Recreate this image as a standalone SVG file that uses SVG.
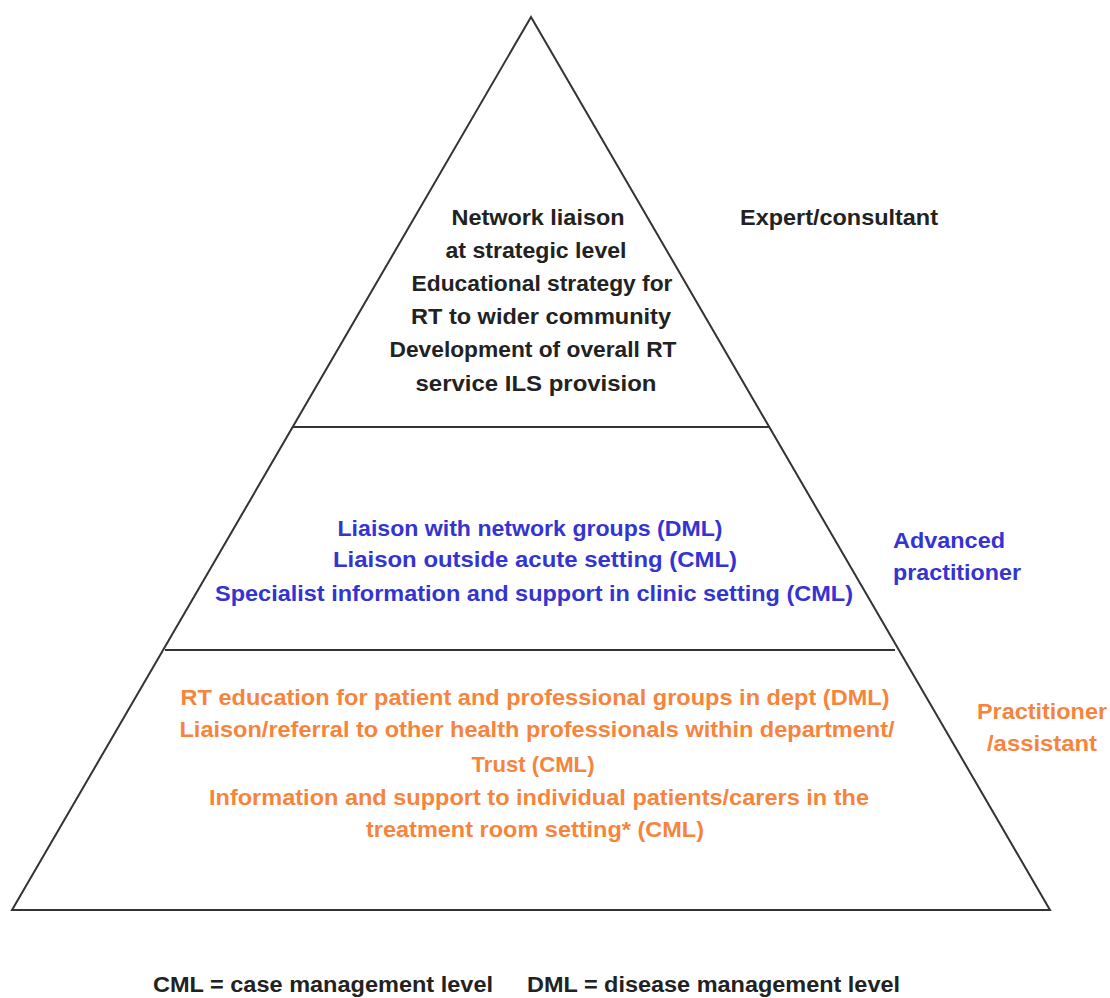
<svg xmlns="http://www.w3.org/2000/svg" width="1110" height="998" viewBox="0 0 1110 998">
<style>
.t{font-family:"Liberation Sans",Arial,sans-serif;font-weight:bold;font-size:22px}
.c{text-anchor:middle}
.k{fill:#222}
.b{fill:#3434d2}
.o{fill:#f7843c}
.ln{stroke:#333;stroke-width:2;fill:none}
</style>
<rect width="1110" height="998" fill="#fff"/>
<g id="pyramid">
<polygon class="ln" points="531,17 12,910 1050,910" stroke-linejoin="miter"/>
</g>
<g id="dividers">
<line class="ln" x1="292" y1="427" x2="770" y2="427"/>
<line class="ln" x1="165" y1="650" x2="895" y2="650"/>
</g>
<g id="top-tier">
<text class="t c k" x="538" y="225" textLength="173" lengthAdjust="spacingAndGlyphs">Network liaison</text>
<text class="t c k" x="536" y="258" textLength="181" lengthAdjust="spacingAndGlyphs">at strategic level</text>
<text class="t c k" x="542" y="291" textLength="261" lengthAdjust="spacingAndGlyphs">Educational strategy for</text>
<text class="t c k" x="541" y="324" textLength="260" lengthAdjust="spacingAndGlyphs">RT to wider community</text>
<text class="t c k" x="533" y="357" textLength="287" lengthAdjust="spacingAndGlyphs">Development of overall RT</text>
<text class="t c k" x="536" y="391" textLength="241" lengthAdjust="spacingAndGlyphs">service ILS provision</text>
</g>
<g id="middle-tier">
<text class="t c b" x="530" y="536" textLength="385" lengthAdjust="spacingAndGlyphs">Liaison with network groups (DML)</text>
<text class="t c b" x="535" y="567" textLength="404" lengthAdjust="spacingAndGlyphs">Liaison outside acute setting  (CML)</text>
<text class="t c b" x="534" y="601" textLength="638" lengthAdjust="spacingAndGlyphs">Specialist information and support in clinic setting (CML)</text>
</g>
<g id="bottom-tier">
<text class="t c o" x="535" y="705" textLength="709" lengthAdjust="spacingAndGlyphs">RT education for patient and professional groups in dept (DML)</text>
<text class="t c o" x="537" y="737" textLength="715" lengthAdjust="spacingAndGlyphs">Liaison/referral to other health professionals within department/</text>
<text class="t c o" x="533" y="772" textLength="123" lengthAdjust="spacingAndGlyphs">Trust (CML)</text>
<text class="t c o" x="539" y="805" textLength="660" lengthAdjust="spacingAndGlyphs">Information and support to individual patients/carers in the</text>
<text class="t c o" x="535" y="837" textLength="338" lengthAdjust="spacingAndGlyphs">treatment room setting* (CML)</text>
</g>
<g id="labels">
<text class="t k" x="740" y="225" textLength="198" lengthAdjust="spacingAndGlyphs">Expert/consultant</text>
<text class="t b" x="893" y="548" textLength="112" lengthAdjust="spacingAndGlyphs">Advanced</text>
<text class="t b" x="893" y="580" textLength="128" lengthAdjust="spacingAndGlyphs">practitioner</text>
<text class="t o" x="977" y="719" textLength="130" lengthAdjust="spacingAndGlyphs">Practitioner</text>
<text class="t o" x="987" y="751" textLength="110" lengthAdjust="spacingAndGlyphs">/assistant</text>
</g>
<g id="legend">
<text class="t k" x="153" y="992" textLength="340" lengthAdjust="spacingAndGlyphs">CML = case management level</text>
<text class="t k" x="527" y="992" textLength="373" lengthAdjust="spacingAndGlyphs">DML = disease management level</text>
</g>
</svg>
